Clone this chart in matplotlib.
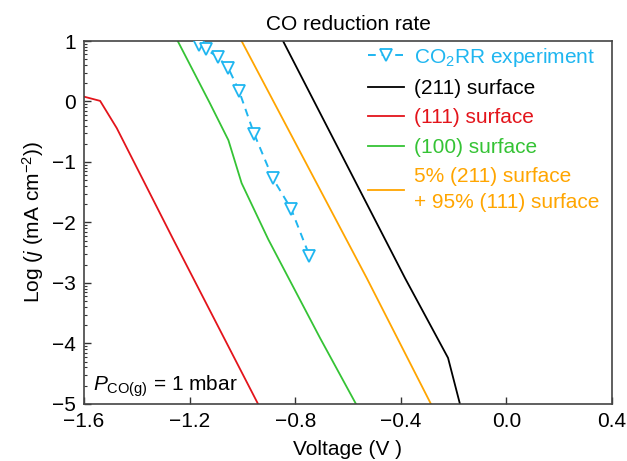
import numpy as np
import matplotlib
matplotlib.use('Agg')
import matplotlib.pyplot as plt
from matplotlib.ticker import FixedLocator

plt.rcParams['font.family'] = ['Liberation Sans', 'DejaVu Sans']
plt.rcParams['mathtext.fontset'] = 'custom'
plt.rcParams['mathtext.rm'] = 'Liberation Sans'
plt.rcParams['mathtext.it'] = 'Liberation Sans:italic'

# Experimental CO2RR points
exp_v = [-1.164, -1.138, -1.094, -1.053, -1.013, -0.956, -0.885, -0.816, -0.746]
exp_logj = [0.93, 0.86, 0.74, 0.55, 0.18, -0.53, -1.27, -1.77, -2.55]

# Model curves
s211_v = [-0.846, -0.384, -0.221, -0.176]
s211_logj = [1.0, -2.92, -4.24, -5.0]

s111_v = [-1.60, -1.539, -1.476, -1.262, -0.941]
s111_logj = [0.08, 0.01, -0.44, -2.28, -5.0]

s100_v = [-1.245, -1.123, -1.053, -1.003, -0.902, -0.706, -0.570]
s100_logj = [1.0, -0.03, -0.64, -1.35, -2.28, -3.91, -5.0]

mix_v = [-1.003, -0.529, -0.286]
mix_logj = [1.0, -2.92, -5.0]

x_ticks = [-1.6, -1.2, -0.8, -0.4, 0.0, 0.4]
y_ticks = [-5, -4, -3, -2, -1, 0, 1]

c_exp = '#1FB6F0'
c_211 = 'black'
c_111 = '#E3141B'
c_100 = '#35C335'
c_mix = '#FFA500'

fig = plt.figure(figsize=(6.27, 4.61), dpi=100)
ax = fig.add_axes([0.134, 0.124, 0.842, 0.787])

ax.plot(exp_v, exp_logj, linestyle='--', color=c_exp, marker='v', markersize=8.5,
        markerfacecolor='white', markeredgewidth=1.3, linewidth=1.4, dashes=(4, 3),
        label='CO$_2$RR experiment', zorder=3)
ax.plot(s211_v, s211_logj, color=c_211, linewidth=1.3, label='(211) surface')
ax.plot(s111_v, s111_logj, color=c_111, linewidth=1.3, label='(111) surface')
ax.plot(s100_v, s100_logj, color=c_100, linewidth=1.3, label='(100) surface')
ax.plot(mix_v, mix_logj, color=c_mix, linewidth=1.3,
        label='5% (211) surface\n+ 95% (111) surface')

ax.set_xlim(-1.6, 0.4)
ax.set_ylim(-5, 1)
ax.set_xticks(x_ticks)
ax.set_xticklabels(['\u22121.6', '\u22121.2', '\u22120.8', '\u22120.4', '0.0', '0.4'])
ax.set_yticks(y_ticks)
ax.set_yticklabels(['\u22125', '\u22124', '\u22123', '\u22122', '\u22121', '0', '1'])

# log-style minor ticks on the y axis
minor = []
for d in range(-5, 1):
    for k in range(2, 10):
        minor.append(d + np.log10(k))
ax.yaxis.set_minor_locator(FixedLocator(minor))

ax.tick_params(which='both', direction='in', labelsize=15, top=False, right=False,
               color='#333333')
ax.tick_params(which='major', length=5, width=1.0, pad=6)
ax.tick_params(which='minor', length=2.5, width=0.8)
for sp in ax.spines.values():
    sp.set_color('#444444')
    sp.set_linewidth(1.2)

ax.set_xlabel('Voltage (V )', fontsize=15, labelpad=6)
ax.set_ylabel('Log ($\\it{j}$ (mA cm$^{-2}$))', fontsize=15, labelpad=4)
ax.set_title('CO reduction rate', fontsize=15, pad=8)

ax.text(0.017, 0.012, '$\\it{P}_{\\rm{CO(g)}}$ = 1 mbar', transform=ax.transAxes,
        fontsize=15, ha='left', va='bottom')

leg = ax.legend(loc='upper right', bbox_to_anchor=(1.0, 1.022), frameon=False,
                fontsize=15, handlelength=1.7, handletextpad=0.5, labelspacing=0.5,
                labelcolor='linecolor', borderaxespad=0.2)
for t in leg.get_texts():
    t.set_linespacing(1.45)

fig.savefig('out.png', dpi=100)
